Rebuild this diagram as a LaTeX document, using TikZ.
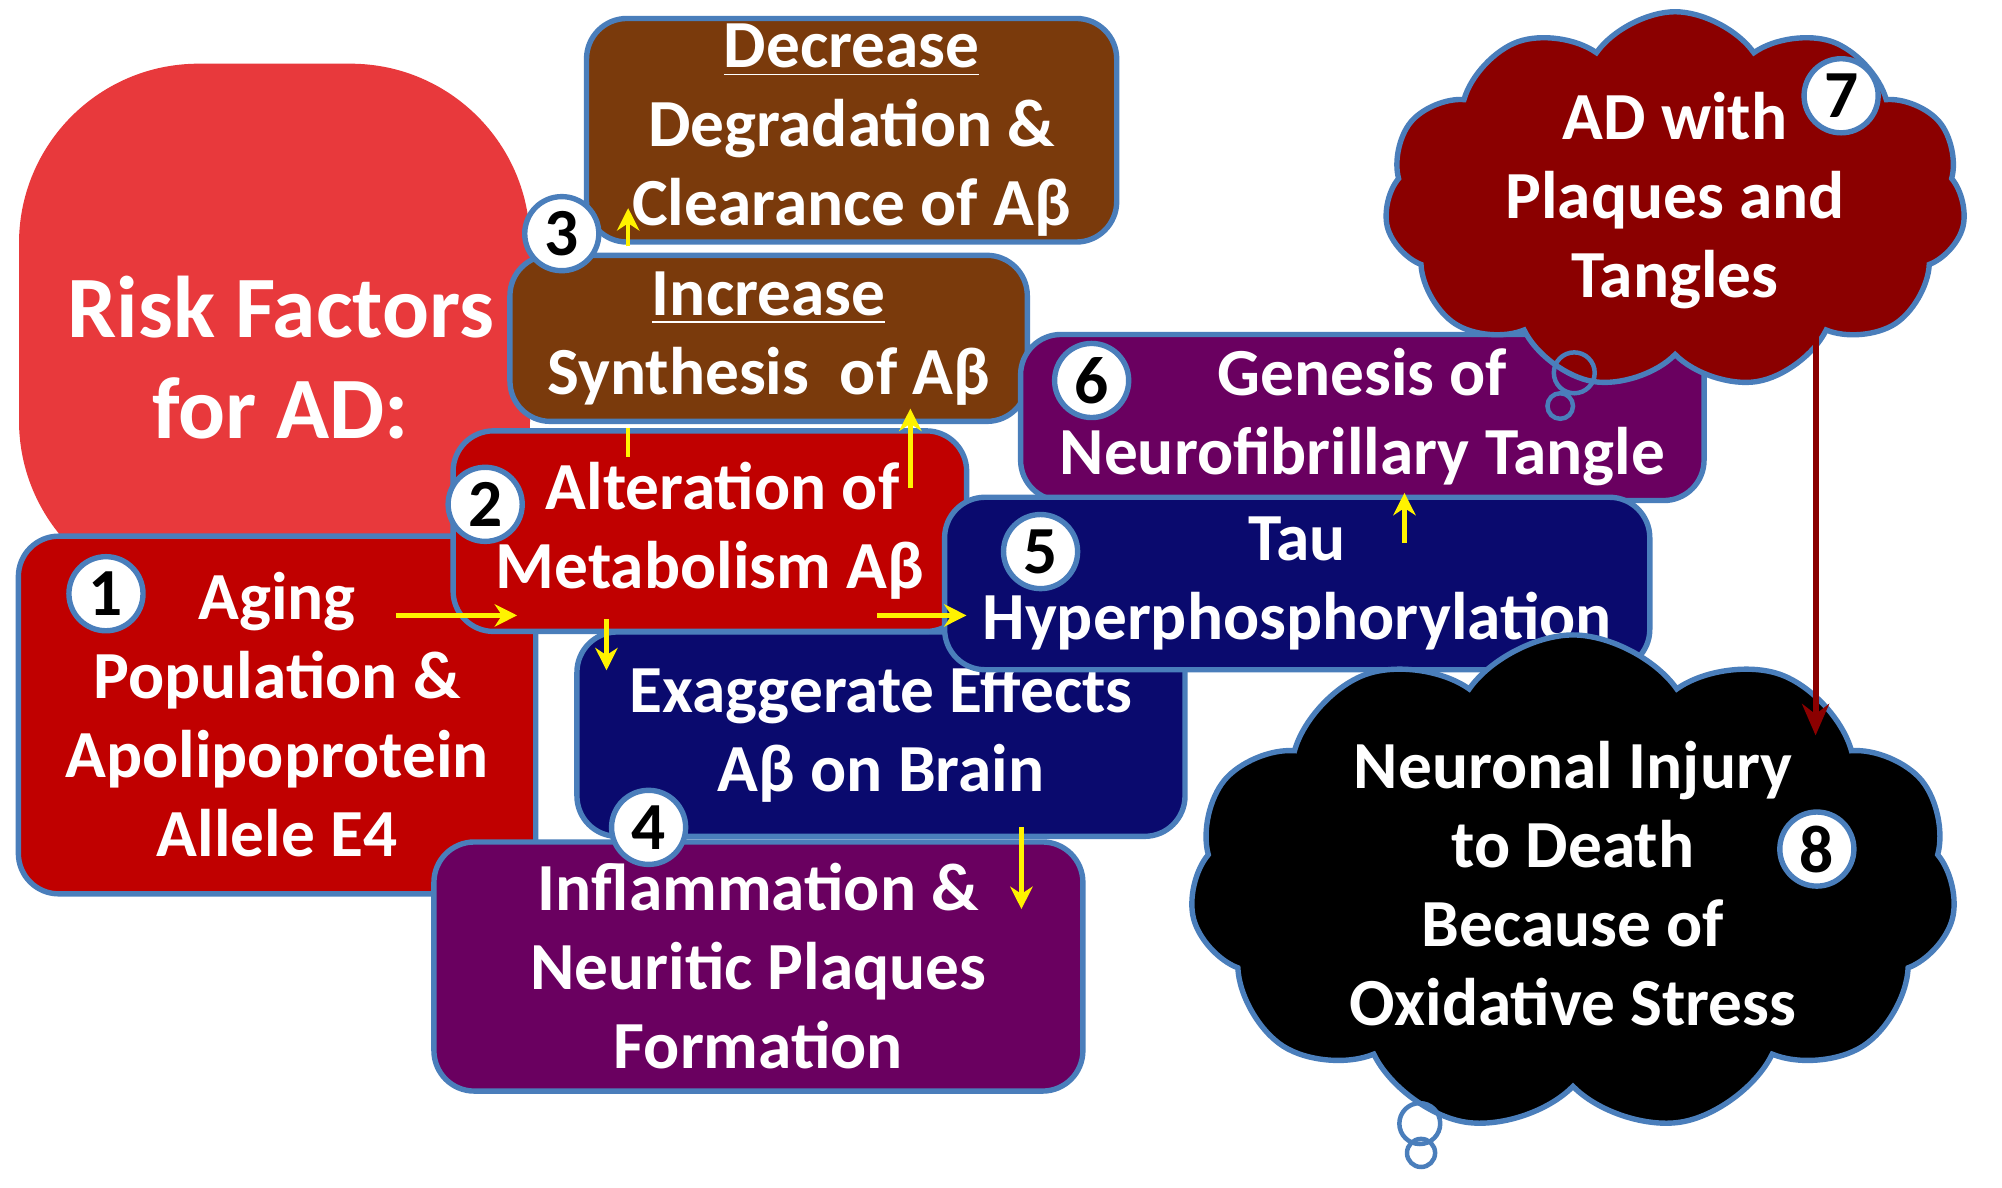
\documentclass[tikz,border=0pt]{standalone}
\usepackage{fontspec}
\setmainfont{Carlito}
\usetikzlibrary{shapes.symbols,arrows.meta}
\definecolor{bord}{HTML}{4A7EBB}
\definecolor{lred}{HTML}{E8393C}
\definecolor{dred}{HTML}{C00000}
\definecolor{brn}{HTML}{7A3A0C}
\definecolor{nvy}{HTML}{0A0A6E}
\definecolor{prp}{HTML}{6A0060}
\definecolor{crd}{HTML}{8B0000}
\definecolor{yel}{HTML}{FFF200}
\tikzset{
 box/.style={draw=bord,line width=1.2pt,rounded corners=9pt,text=white,align=center,
   font=\bfseries\fontsize{15}{17.6}\selectfont,inner sep=0pt},
 num/.style={circle,draw=bord,line width=1.2pt,fill=white,minimum size=0.58cm,inner sep=0pt,
   font=\bfseries\fontsize{15}{17}\selectfont},
 yarr/.style={draw=yel,line width=1pt,-{Stealth[length=5pt,width=5pt]}},
 cl/.style={cloud,cloud puffs=11,cloud puff arc=110,aspect=1.5,draw=bord,line width=1.2pt,
   text=white,align=center,font=\bfseries\fontsize{15}{17.6}\selectfont,inner sep=0pt},
 bub/.style={circle,draw=bord,line width=1pt,inner sep=0pt}
}
\begin{document}
\begin{tikzpicture}[x=0.01cm,y=-0.01cm]
\useasboundingbox (0,0) rectangle (1568,930);
\fill[white] (0,0) rectangle (1568,930);
% risk factor background
\node[box,fill=lred,draw=none,rounded corners=40pt,minimum width=4.0cm,minimum height=4.2cm] (rf) at (215,260) {};
\node[text=white,align=center,font=\bfseries\fontsize{19.5}{22.5}\selectfont] (rft) at (220,280) {Risk Factors\\for AD:};
\node[box,fill=dred,minimum width=4.05cm,minimum height=2.8cm] (b1) at (217,560)
 {Aging\\Population \&\\Apolipoprotein\\Allele E4};
\node[box,fill=brn,minimum width=4.15cm,minimum height=1.75cm] (b3) at (667,102)
 {\underline{Decrease}\\Degradation \&\\Clearance of Aβ};
\node[box,fill=brn,minimum width=4.05cm,minimum height=1.3cm] (b3b) at (602,265)
 {\underline{Increase}\\Synthesis\ \ of Aβ};
\node[box,fill=nvy,minimum width=4.76cm,minimum height=1.6cm] (b4a) at (690,575)
 {Exaggerate Effects\\Aβ on Brain};
\node[box,fill=dred,minimum width=4.02cm,minimum height=1.57cm] (b2) at (556,416)
 {\hspace*{0.2cm}Alteration of\\Metabolism Aβ};
\node[box,fill=prp,minimum width=5.35cm,minimum height=1.3cm] (b6) at (1067,327)
 {Genesis of\\Neurofibrillary Tangle};
\node[box,fill=nvy,minimum width=5.52cm,minimum height=1.35cm] (b5) at (1016,457)
 {Tau\\Hyperphosphorylation};
\node[box,fill=prp,minimum width=5.08cm,minimum height=1.95cm] (b4) at (594,757)
 {Inflammation \&\\Neuritic Plaques\\Formation};
% clouds
\node[cl,fill=crd,minimum width=4.55cm,minimum height=2.75cm] (c7) at (1312,157)
 {AD with\\Plaques and\\Tangles};
\node[bub,minimum size=0.32cm] (p7a) at (1233,292) {};
\node[bub,minimum size=0.2cm] (p7b) at (1222,318) {};
\node[cl,fill=black,minimum width=6.0cm,minimum height=3.25cm] (c8) at (1232,692)
 {Neuronal Injury\\to Death\\Because of\\Oxidative Stress};
\node[bub,minimum size=0.32cm] (p8a) at (1112,880) {};
\node[bub,minimum size=0.22cm] (p8b) at (1113,903) {};
% numbers
\node[num] (n1) at (83,465) {1};
\node[num] (n2) at (380,395) {2};
\node[num] (n3) at (440,183) {3};
\node[num] (n4) at (508,648) {4};
\node[num] (n5) at (815,432) {5};
\node[num] (n6) at (855,298) {6};
\node[num] (n7) at (1442,75) {7};
\node[num] (n8) at (1423,665) {8};
% arrows
\coordinate (a1s) at (310,482); \coordinate (a1e) at (405,482);
\draw[yarr] (a1s) -- (a1e);
\coordinate (a2s) at (475,485); \coordinate (a2e) at (475,525);
\draw[yarr] (a2s) -- (a2e);
\coordinate (a3s) at (492,193); \coordinate (a3e) at (492,163);
\draw[yarr] (a3s) -- (a3e);
\coordinate (a4s) at (713,382); \coordinate (a4e) at (713,320);
\draw[yarr] (a4s) -- (a4e);
\coordinate (a5s) at (492,335); \coordinate (a5e) at (492,358);
\draw[draw=yel,line width=1pt] (a5s) -- (a5e);
\coordinate (a6s) at (687,482); \coordinate (a6e) at (757,482);
\draw[yarr] (a6s) -- (a6e);
\coordinate (a7s) at (1100,425); \coordinate (a7e) at (1100,386);
\draw[yarr] (a7s) -- (a7e);
\coordinate (a8s) at (800,648); \coordinate (a8e) at (800,712);
\draw[yarr] (a8s) -- (a8e);
\coordinate (a9s) at (1422,232); \coordinate (a9e) at (1422,576);
\draw[draw=crd,line width=1.3pt,-{Stealth[length=7pt,width=6pt]}] (a9s) -- (a9e);
\end{tikzpicture}
\end{document}
